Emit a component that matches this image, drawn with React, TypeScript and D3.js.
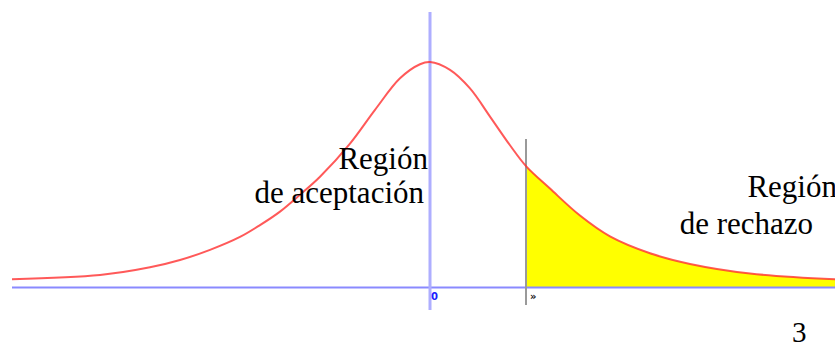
import React, { useEffect, useRef } from 'react';
import * as d3 from 'd3';

// curve samples (x in axis units, density)
const xValues = [-4.18, -3.3, -2.8, -2.5, -2.2, -1.9, -1.7, -1.5, -1.3, -1.1, -0.8, -0.55, -0.3, -0.1, 0, 0.2, 0.4, 0.6, 0.8, 0.96, 1.2, 1.5, 1.8, 2.2, 2.6, 3.2, 4.05];
const densityValues = [0.0137, 0.0213, 0.035, 0.048, 0.066, 0.089, 0.11, 0.134, 0.164, 0.196, 0.255, 0.315, 0.371, 0.396, 0.4, 0.386, 0.353, 0.303, 0.252, 0.215, 0.175, 0.127, 0.09, 0.06, 0.041, 0.024, 0.0137];
const criticalValue = 0.96;
const tickValues = [0, criticalValue];
const tickLabels = ['0', '»'];
const regionLabels = [
  ['Región', 'de aceptación'],
  ['Región', 'de rechazo'],
];
const pageNumber = '3';

const W = 835;
const H = 347;
const SERIF = "'Liberation Serif', 'Times New Roman', serif";

// label placement: [right edge x, baseline y]
const labelPos = [
  [[428, 169], [424, 203]],
  [[837, 197], [813, 234]],
];

const App = () => {
  const plotRef = useRef<SVGGElement>(null);

  useEffect(() => {
    const g = d3.select(plotRef.current);
    g.selectAll('*').remove();

    const data = xValues.map((x, i) => ({ x, y: densityValues[i] }));

    const x = d3.scaleLinear().domain([-4.18, 4.05]).range([12, 835]);
    const y = d3.scaleLinear().domain([0, 0.4]).range([287, 62]);

    // rejection region
    const tail = data.filter(d => d.x >= criticalValue);
    const area = d3.area<{ x: number; y: number }>()
      .x(d => x(d.x))
      .y0(y(0))
      .y1(d => y(d.y))
      .curve(d3.curveCatmullRom.alpha(0.5));
    g.append('path')
      .attr('d', area(tail))
      .attr('fill', '#ffff00');

    // horizontal axis
    g.append('line')
      .attr('x1', x(-4.18)).attr('x2', x(4.05))
      .attr('y1', y(0) + 0.5).attr('y2', y(0) + 0.5)
      .attr('stroke', '#8a8aff')
      .attr('stroke-width', 2.2);

    // vertical axis
    g.append('line')
      .attr('x1', x(0)).attr('x2', x(0))
      .attr('y1', 12).attr('y2', 310)
      .attr('stroke', '#aeaeff')
      .attr('stroke-width', 3);

    // critical value marker
    g.append('line')
      .attr('x1', x(criticalValue)).attr('x2', x(criticalValue))
      .attr('y1', 139).attr('y2', 305)
      .attr('stroke', '#9a9a9a')
      .attr('stroke-width', 2);

    // density curve
    const line = d3.line<{ x: number; y: number }>()
      .x(d => x(d.x))
      .y(d => y(d.y))
      .curve(d3.curveCatmullRom.alpha(0.5));
    g.append('path')
      .attr('d', line(data))
      .attr('fill', 'none')
      .attr('stroke', '#ff3030')
      .attr('stroke-opacity', 0.8)
      .attr('stroke-width', 2);

    // tick labels
    g.selectAll('text.tick')
      .data(tickValues)
      .enter()
      .append('text')
      .attr('class', 'tick')
      .attr('x', (d, i) => x(d) + (i === 0 ? 1 : 4))
      .attr('y', 300)
      .style('font-family', "'DejaVu Sans', sans-serif")
      .attr('font-size', 10)
      .attr('font-weight', 'bold')
      .attr('fill', (d, i) => (i === 0 ? '#2020ff' : '#111'))
      .text((d, i) => tickLabels[i]);
  }, []);

  return (
    <svg
      width={W}
      height={H}
      style={{ position: 'absolute', left: 0, top: 0, background: '#fff', overflow: 'hidden' }}
    >
      <g ref={plotRef} />
      {regionLabels.map((lines, r) =>
        lines.map((txt, l) => {
          const [lx, ly] = labelPos[r][l];
          return (
            <text
              key={`${r}-${l}`}
              x={lx}
              y={ly}
              fontSize={31}
              fill="#000"
              textAnchor="end"
              style={{ fontFamily: SERIF }}
            >
              {txt}
            </text>
          );
        })
      )}
      <text x={792} y={342} fontSize={29} fill="#000" style={{ fontFamily: SERIF }}>
        {pageNumber}
      </text>
    </svg>
  );
};

export default App;
